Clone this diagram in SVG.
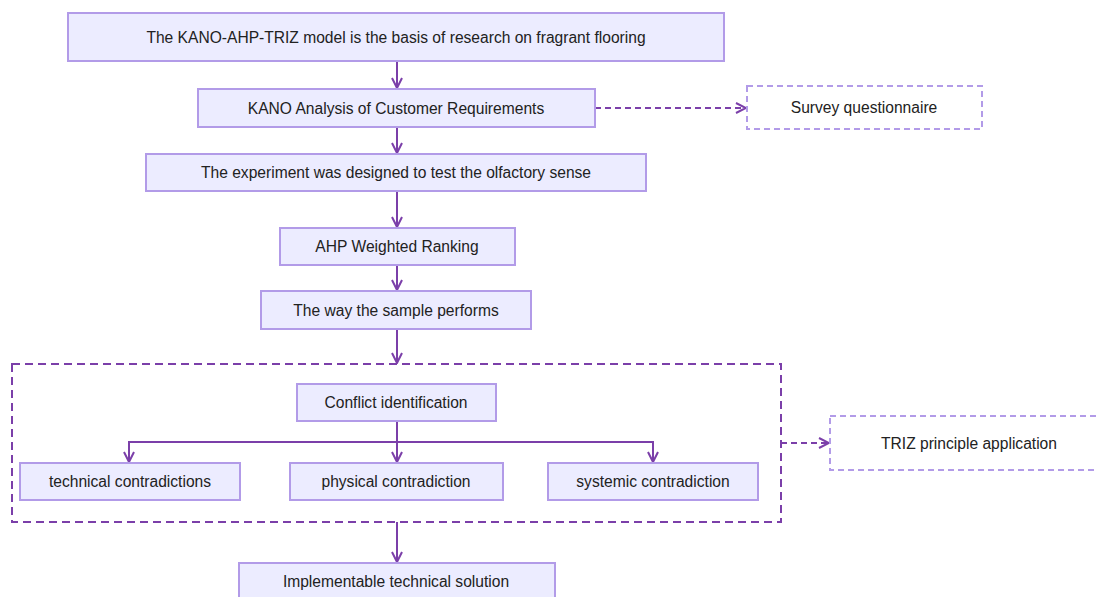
<svg xmlns="http://www.w3.org/2000/svg" width="1097" height="597" viewBox="0 0 1097 597">
<defs>
<style>
.n{fill:#ECECFF;stroke:#B29BE8;stroke-width:2}
.d{fill:#FFFFFF;stroke:#B29BE8;stroke-width:2;stroke-dasharray:6 4}
.c{fill:none;stroke:#7B3FA9;stroke-width:2;stroke-dasharray:8 5}
.t{font-family:"Liberation Sans",Arial,sans-serif;font-size:15.6px;fill:#222;text-anchor:middle;dominant-baseline:central}
.e{fill:none;stroke:#7B3FA9;stroke-width:2}
.ed{fill:none;stroke:#7B3FA9;stroke-width:2;stroke-dasharray:6 4}
</style>
<marker id="a" viewBox="0 0 12 12" refX="11" refY="6" markerWidth="12" markerHeight="12" markerUnits="userSpaceOnUse" orient="auto">
<path d="M1,1 L11,6 L1,11" fill="none" stroke="#7B3FA9" stroke-width="2"/>
</marker>
</defs>
<rect width="1097" height="597" fill="#FFFFFF"/>
<g id="cluster"><rect class="c" x="12" y="364" width="769" height="158"/></g>
<g id="edges">
<path class="e" d="M397,61 L397,88" marker-end="url(#a)"/>
<path class="ed" d="M595,108 L746,108" marker-end="url(#a)"/>
<path class="e" d="M397,127 L397,153" marker-end="url(#a)"/>
<path class="e" d="M397,191 L397,227" marker-end="url(#a)"/>
<path class="e" d="M397,265 L397,290" marker-end="url(#a)"/>
<path class="e" d="M397,329 L397,363" marker-end="url(#a)"/>
<path class="e" d="M397,421 L397,462" marker-end="url(#a)"/>
<path class="e" d="M397,442 L129,442 L129,462" marker-end="url(#a)"/>
<path class="e" d="M397,442 L653,442 L653,462" marker-end="url(#a)"/>
<path class="ed" d="M781,443 L829,443" marker-end="url(#a)"/>
<path class="e" d="M397,522 L397,562" marker-end="url(#a)"/>
</g>
<g id="n1"><rect class="n" x="68" y="13" width="656" height="48"/><text class="t" x="396" y="37">The KANO-AHP-TRIZ model is the basis of research on fragrant flooring</text></g>
<g id="n2"><rect class="n" x="198" y="89" width="397" height="38"/><text class="t" x="396" y="108">KANO Analysis of Customer Requirements</text></g>
<g id="n3"><rect class="d" x="747" y="86" width="235" height="43"/><text class="t" x="864" y="107">Survey questionnaire</text></g>
<g id="n4"><rect class="n" x="146" y="154" width="500" height="37"/><text class="t" x="396" y="172">The experiment was designed to test the olfactory sense</text></g>
<g id="n5"><rect class="n" x="280" y="228" width="235" height="37"/><text class="t" x="397" y="246">AHP Weighted Ranking</text></g>
<g id="n6"><rect class="n" x="261" y="291" width="270" height="38"/><text class="t" x="396" y="310">The way the sample performs</text></g>
<g id="n7"><rect class="n" x="297" y="384" width="199" height="37"/><text class="t" x="396" y="402">Conflict identification</text></g>
<g id="n8"><rect class="n" x="20" y="463" width="220" height="37"/><text class="t" x="130" y="481">technical contradictions</text></g>
<g id="n9"><rect class="n" x="290" y="463" width="213" height="37"/><text class="t" x="396" y="481">physical contradiction</text></g>
<g id="n10"><rect class="n" x="548" y="463" width="210" height="37"/><text class="t" x="653" y="481">systemic contradiction</text></g>
<g id="n11"><rect class="d" x="830" y="416" width="280" height="54"/><text class="t" x="969" y="443">TRIZ principle application</text></g>
<g id="n12"><rect class="n" x="239" y="563" width="316" height="40"/><text class="t" x="396" y="581">Implementable technical solution</text></g>
</svg>
